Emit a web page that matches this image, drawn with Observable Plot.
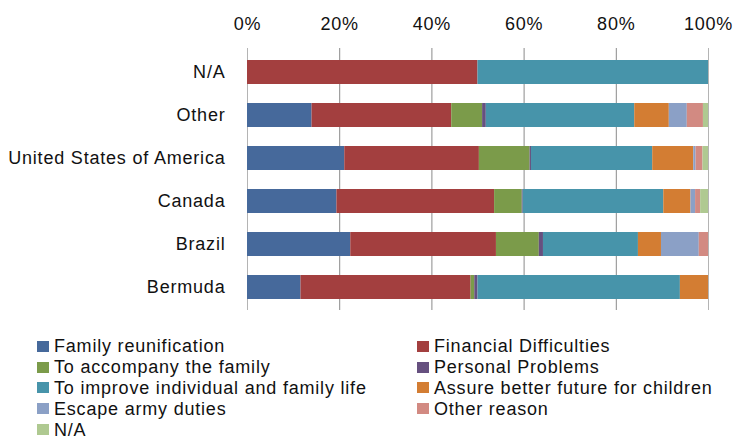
<!DOCTYPE html>
<html>
<head>
<meta charset="utf-8">
<script src="https://cdn.jsdelivr.net/npm/d3@7"></script>
<script src="https://cdn.jsdelivr.net/npm/@observablehq/plot@0.6"></script>
<style>
  html, body { margin: 0; padding: 0; background: #fff; }
  body { width: 737px; height: 442px; overflow: hidden; font-family: "Liberation Sans", sans-serif; }
  #legend { display: grid; grid-template-columns: 380px 300px; margin-left: 37px; margin-top: 16px; }
  .item { display: flex; align-items: center; height: 20.8px; line-height: 20px; font-size: 18px; letter-spacing: 0.8px; color: #111; white-space: nowrap; }
  .sw { width: 12px; height: 11px; margin-right: 5px; flex: none; }
  svg text { letter-spacing: 0.8px; }
</style>
</head>
<body>
<div id="chart"></div>
<div id="legend"></div>
<script>
const countries = ["N/A", "Other", "United States of America", "Canada", "Brazil", "Bermuda"];
const reasons = [
  "Family reunification", "Financial Difficulties", "To accompany the family",
  "Personal Problems", "To improve individual and family life",
  "Assure better future for children", "Escape army duties", "Other reason", "N/A"
];
const colors = ["#46699B", "#A33F3F", "#7B9B4A", "#66507F", "#4794AA", "#D37D33", "#8BA0C6", "#D28A82", "#AFC991"];
const tickLabels = ["0%", "20%", "40%", "60%", "80%", "100%"];

// percent share of each reason, per country (same order as countries)
const familyReunification = [0, 14.0, 21.1, 19.4, 22.4, 11.6];
const financialDifficulties = [50, 30.3, 29.2, 34.2, 31.6, 36.9];
const toAccompany = [0, 6.7, 11.0, 6.0, 9.3, 0.8];
const personalProblems = [0, 0.8, 0.3, 0.2, 0.9, 0.7];
const toImprove = [50, 32.2, 26.3, 30.5, 20.6, 43.9];
const assureFuture = [0, 7.5, 8.9, 5.9, 5.0, 6.1];
const escapeArmy = [0, 3.9, 0.5, 1.0, 8.2, 0];
const otherReason = [0, 3.5, 1.5, 1.1, 2.0, 0];
const notAnswered = [0, 1.1, 1.2, 1.7, 0, 0];

const series = [familyReunification, financialDifficulties, toAccompany, personalProblems,
  toImprove, assureFuture, escapeArmy, otherReason, notAnswered];

const rows = [];
countries.forEach((c, i) => {
  const total = d3.sum(series, s => s[i]);
  series.forEach((s, j) => {
    rows.push({country: c, reason: reasons[j], value: s[i] / total * 100});
  });
});

const ticks = [0, 20, 40, 60, 80, 100];

const chart = Plot.plot({
  width: 737,
  height: 320,
  marginLeft: 247,
  marginRight: 29,
  marginTop: 48,
  marginBottom: 10,
  style: {fontFamily: "'Liberation Sans', sans-serif", fontSize: "18px", color: "#111", background: "#fff"},
  x: {domain: [0, 100], axis: null},
  y: {domain: countries, paddingInner: 0.45, paddingOuter: 0.225, axis: null},
  color: {domain: reasons, range: colors},
  marks: [
    Plot.ruleX(ticks, {x: d => d, stroke: d => (d === 0 || d === 100) ? "#b4b4b4" : "#8a8a8a", strokeWidth: 1}),
    Plot.barX(rows, Plot.stackX({x: "value", y: "country", fill: "reason", order: null, inset: 0})),
    Plot.axisX(ticks, {anchor: "top", tickSize: 0, tickPadding: 0, dy: -19, tickFormat: (d, i) => tickLabels[i], fontSize: 18, fill: "#111", label: null}),
    Plot.axisY({anchor: "left", tickSize: 0, tickPadding: 22, fontSize: 18, fill: "#111", label: null})
  ]
});
document.getElementById("chart").appendChild(chart);

const legend = document.getElementById("legend");
reasons.forEach((r, i) => {
  const it = document.createElement("div");
  it.className = "item";
  const sw = document.createElement("span");
  sw.className = "sw";
  sw.style.background = colors[i];
  it.appendChild(sw);
  const t = document.createElement("span");
  t.textContent = r;
  it.appendChild(t);
  legend.appendChild(it);
});
</script>
</body>
</html>
